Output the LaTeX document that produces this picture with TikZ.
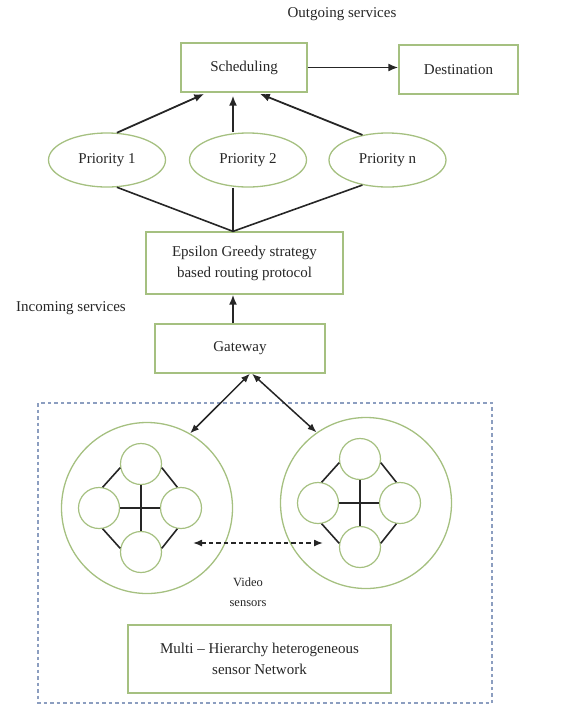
\documentclass[tikz,border=0pt]{standalone}
\usepackage{fontspec}
\setmainfont{Liberation Serif}
\usetikzlibrary{arrows.meta,shapes.geometric}
\definecolor{boxgreen}{RGB}{165,192,128}
\definecolor{netblue}{RGB}{140,158,192}
\definecolor{ink}{RGB}{38,38,38}
\begin{document}
\begin{tikzpicture}[x=1pt,y=-1pt,
        font=\fontsize{15}{21}\selectfont, text=ink,
        box/.style={draw=boxgreen,line width=1.3pt,minimum width=#1,minimum height=49pt,align=center,inner sep=2pt},
        prio/.style={ellipse,draw=boxgreen,line width=1.3pt,minimum width=117pt,minimum height=54pt,inner sep=0pt},
        cluster/.style={circle,draw=boxgreen,line width=1.3pt,minimum size=171pt,inner sep=0pt},
        sensor/.style={circle,draw=boxgreen,line width=1.2pt,minimum size=41pt,inner sep=0pt},
        arr/.style={draw=ink,line width=1.8pt,-{Latex[length=10pt,width=8pt]}},
        arrtwo/.style={draw=ink,line width=1.5pt,{Latex[length=9pt,width=7pt]}-{Latex[length=9pt,width=7pt]}},
        link/.style={draw=ink,line width=1.6pt}]
        \useasboundingbox (0,0) rectangle (577,705);
        % top part
        \node (out) at (342,14) {Outgoing services};
        \node[box=126pt] (sched) at (244,67.5) {Scheduling};
        \node[box=119pt] (dest) at (458.5,69.5) {Destination};
        \node[prio] (p1) at (107,160) {Priority 1};
        \node[prio] (p2) at (248,160) {Priority 2};
        \node[prio] (pn) at (387.5,160) {Priority n};
        \node[box=197pt,minimum height=62pt] (eps) at (244.5,263) {Epsilon Greedy strategy\\based routing protocol};
        \node (in) at (71,308) {Incoming services};
        \node[box=170pt] (gate) at (240,348.5) {Gateway};
        \coordinate (join) at ([xshift=-11.5pt]eps.north);
        \draw[arr] (sched.east) -- (dest.west |- sched.east);
        \draw[arr,shorten >=3pt] (p1.70) -- ([xshift=-37pt]sched.south);
        \draw[arr,shorten >=3pt] (join |- p2.north) -- (join |- sched.south);
        \draw[arr,shorten >=3pt] (pn.135) -- ([xshift=13pt]sched.south);
        \draw[link] (p1.-70) -- (join);
        \draw[link] (join |- p2.south) -- (join);
        \draw[link] (pn.-135) -- (join);
        \draw[arr] (join |- gate.north) -- (join |- eps.south);
        % sensor network
        \draw[netblue,line width=1.5pt,dash pattern=on 3.5pt off 3pt] (38,403) rectangle (492,703);
        \foreach \c/\x/\y in {a/147/508,b/366/503}{
            \node[cluster] (\c) at (\x,\y) {};
            \node[sensor] (\c-t) at (\x-6,\y-44) {};
            \node[sensor] (\c-l) at (\x-48,\y) {};
            \node[sensor] (\c-r) at (\x+34,\y) {};
            \node[sensor] (\c-b) at (\x-6,\y+44) {};
            \draw[link] (\c-t) -- (\c-b);
            \draw[link] (\c-l) -- (\c-r);
            \draw[link] (\c-l.80) -- (\c-t.190);
            \draw[link] (\c-t.-10) -- (\c-r.100);
            \draw[link] (\c-l.-80) -- (\c-b.170);
            \draw[link] (\c-b.10) -- (\c-r.-100);
        }
        \draw[arrtwo] ([xshift=10pt]gate.south) -- (a.60);
        \draw[arrtwo] ([xshift=12pt]gate.south) -- (b.125);
        \coordinate (va) at (193,543);
        \coordinate (vb) at (323,543);
        \draw[arrtwo,dash pattern=on 4.5pt off 3pt] (va) -- (vb);
        \node[font=\fontsize{12.5}{20}\selectfont,align=center] (vid) at (248,592) {Video\\sensors};
        \node[box=263pt,minimum height=68pt] (multi) at (259.5,659) {Multi – Hierarchy heterogeneous\\sensor Network};
    \end{tikzpicture}
\end{document}
